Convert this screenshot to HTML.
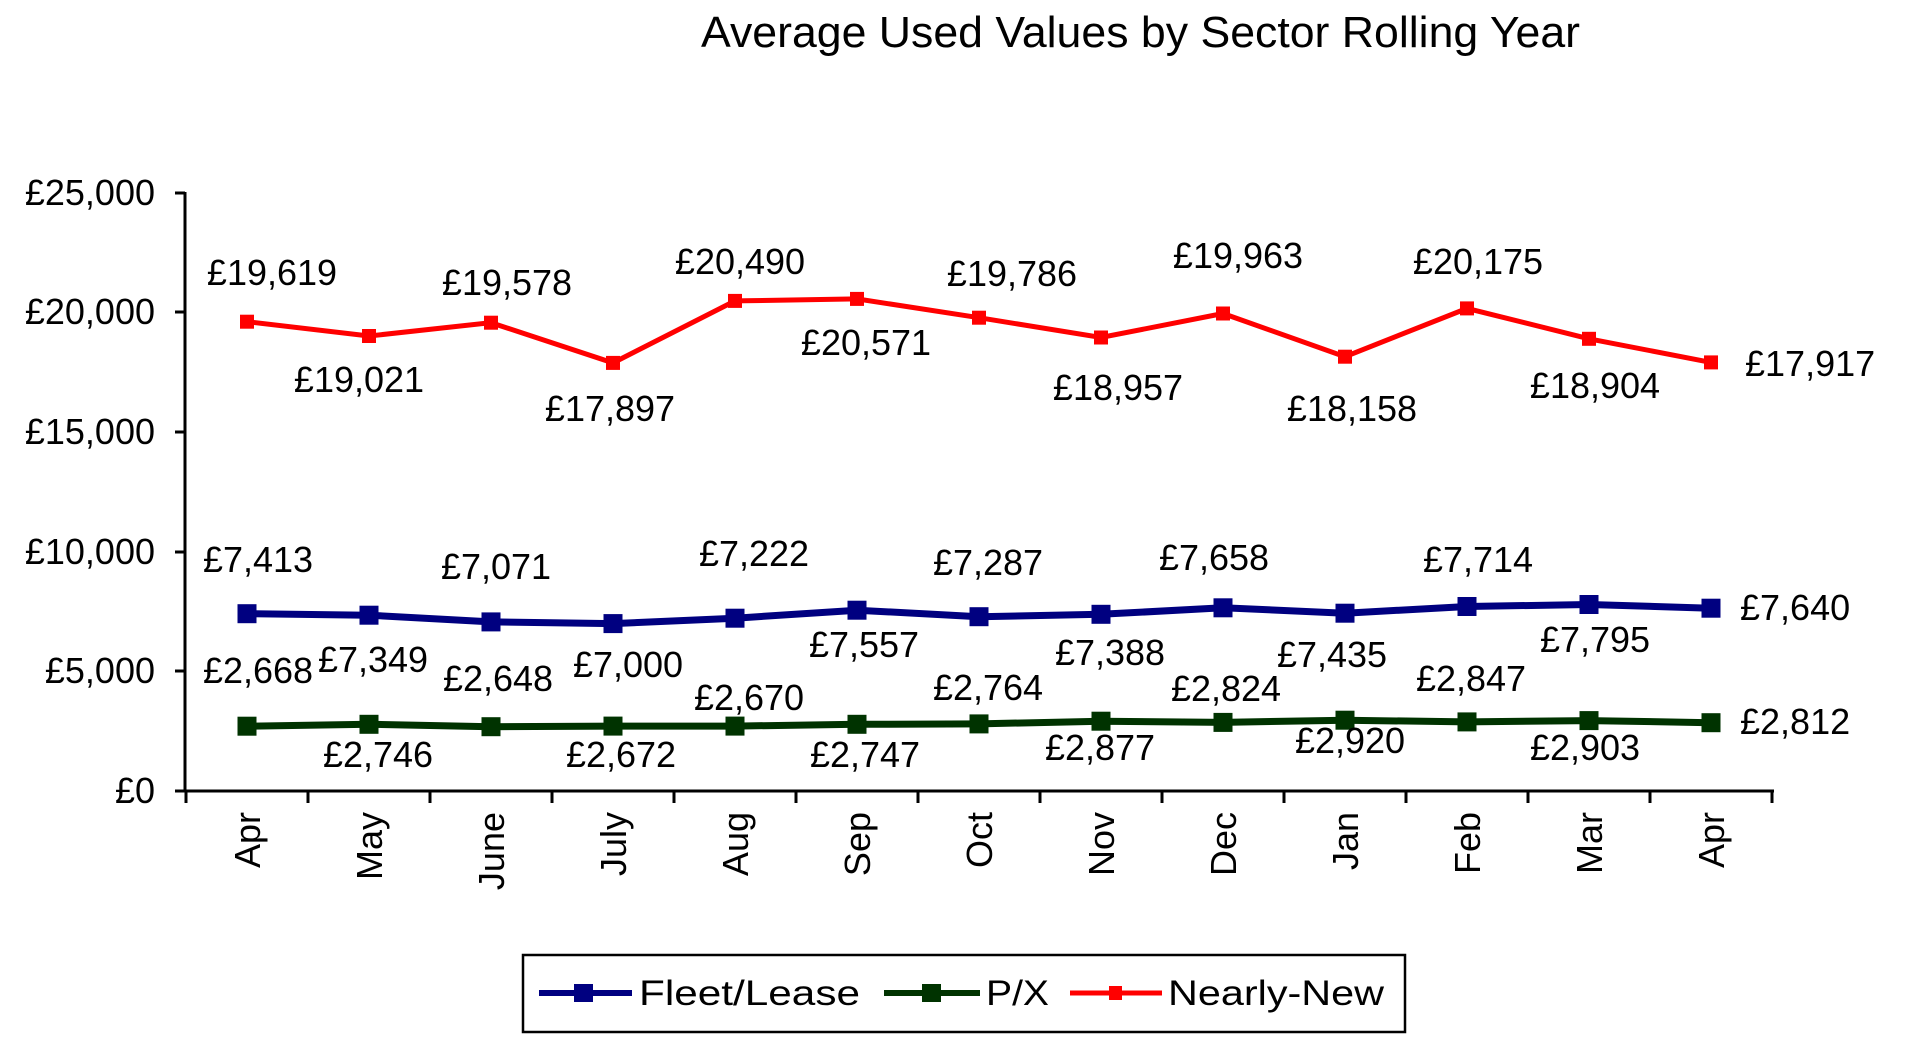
<!DOCTYPE html>
<html>
<head>
<meta charset="utf-8">
<style>
html,body{margin:0;padding:0;background:#fff;}
svg{display:block;}
text{font-family:"Liberation Sans",Arial,sans-serif;fill:#000;}
</style>
</head>
<body>
<svg width="1920" height="1046" viewBox="0 0 1920 1046" xmlns="http://www.w3.org/2000/svg">
<rect x="0" y="0" width="1920" height="1046" fill="#fff"/>

<!-- Title -->
<text x="701" y="47" font-size="44" textLength="879" lengthAdjust="spacingAndGlyphs" fill="#222">Average Used Values by Sector Rolling Year</text>

<!-- Y axis -->
<g stroke="#000" stroke-width="3" fill="none">
<line x1="185" y1="192" x2="185" y2="792"/>
<line x1="175" y1="193" x2="185" y2="193"/>
<line x1="175" y1="312" x2="185" y2="312"/>
<line x1="175" y1="432" x2="185" y2="432"/>
<line x1="175" y1="552" x2="185" y2="552"/>
<line x1="175" y1="671" x2="185" y2="671"/>
<line x1="175" y1="791" x2="185" y2="791"/>
<!-- X axis -->
<line x1="184" y1="791" x2="1774" y2="791"/>
<line x1="186" y1="791" x2="186" y2="803"/>
<line x1="308" y1="791" x2="308" y2="803"/>
<line x1="430" y1="791" x2="430" y2="803"/>
<line x1="552" y1="791" x2="552" y2="803"/>
<line x1="674" y1="791" x2="674" y2="803"/>
<line x1="796" y1="791" x2="796" y2="803"/>
<line x1="918" y1="791" x2="918" y2="803"/>
<line x1="1040" y1="791" x2="1040" y2="803"/>
<line x1="1162" y1="791" x2="1162" y2="803"/>
<line x1="1284" y1="791" x2="1284" y2="803"/>
<line x1="1406" y1="791" x2="1406" y2="803"/>
<line x1="1528" y1="791" x2="1528" y2="803"/>
<line x1="1650" y1="791" x2="1650" y2="803"/>
<line x1="1772" y1="791" x2="1772" y2="803"/>
</g>

<!-- Y labels -->
<g font-size="36" text-anchor="end">
<text x="155" y="205">£25,000</text>
<text x="155" y="324">£20,000</text>
<text x="155" y="444">£15,000</text>
<text x="155" y="564">£10,000</text>
<text x="155" y="683">£5,000</text>
<text x="155" y="803">£0</text>
</g>

<!-- X labels (rotated) -->
<g font-size="36" text-anchor="end">
<text transform="translate(260,812) rotate(-90)">Apr</text>
<text transform="translate(382,812) rotate(-90)">May</text>
<text transform="translate(504,812) rotate(-90)">June</text>
<text transform="translate(626,812) rotate(-90)">July</text>
<text transform="translate(748,812) rotate(-90)">Aug</text>
<text transform="translate(870,812) rotate(-90)">Sep</text>
<text transform="translate(992,812) rotate(-90)">Oct</text>
<text transform="translate(1114,812) rotate(-90)">Nov</text>
<text transform="translate(1236,812) rotate(-90)">Dec</text>
<text transform="translate(1358,812) rotate(-90)">Jan</text>
<text transform="translate(1480,812) rotate(-90)">Feb</text>
<text transform="translate(1602,812) rotate(-90)">Mar</text>
<text transform="translate(1724,812) rotate(-90)">Apr</text>
</g>

<!-- Nearly-New (red) -->
<polyline fill="none" stroke="#ff0000" stroke-width="5" points="247,321.7 369,336 491,322.7 613,362.9 735,300.9 857,298.9 979,317.7 1101,337.5 1223,313.5 1345,356.7 1467,308.4 1589,338.8 1711,362.4"/>
<g fill="#ff0000">
<rect x="240" y="314.7" width="14" height="14"/>
<rect x="362" y="329" width="14" height="14"/>
<rect x="484" y="315.7" width="14" height="14"/>
<rect x="606" y="355.9" width="14" height="14"/>
<rect x="728" y="293.9" width="14" height="14"/>
<rect x="850" y="291.9" width="14" height="14"/>
<rect x="972" y="310.7" width="14" height="14"/>
<rect x="1094" y="330.5" width="14" height="14"/>
<rect x="1216" y="306.5" width="14" height="14"/>
<rect x="1338" y="349.7" width="14" height="14"/>
<rect x="1460" y="301.4" width="14" height="14"/>
<rect x="1582" y="331.8" width="14" height="14"/>
<rect x="1704" y="355.4" width="14" height="14"/>
</g>

<!-- Fleet/Lease (blue) -->
<polyline fill="none" stroke="#000080" stroke-width="7" points="247,613.7 369,615.2 491,621.9 613,623.6 735,618.2 857,610.2 979,616.7 1101,614.3 1223,607.8 1345,613.2 1467,606.5 1589,604.5 1711,608.2"/>
<g fill="#000080">
<rect x="237.5" y="604.2" width="19" height="19"/>
<rect x="359.5" y="605.7" width="19" height="19"/>
<rect x="481.5" y="612.4" width="19" height="19"/>
<rect x="603.5" y="614.1" width="19" height="19"/>
<rect x="725.5" y="608.7" width="19" height="19"/>
<rect x="847.5" y="600.7" width="19" height="19"/>
<rect x="969.5" y="607.2" width="19" height="19"/>
<rect x="1091.5" y="604.8" width="19" height="19"/>
<rect x="1213.5" y="598.3" width="19" height="19"/>
<rect x="1335.5" y="603.7" width="19" height="19"/>
<rect x="1457.5" y="597" width="19" height="19"/>
<rect x="1579.5" y="595" width="19" height="19"/>
<rect x="1701.5" y="598.7" width="19" height="19"/>
</g>

<!-- P/X (green) -->
<polyline fill="none" stroke="#003300" stroke-width="7" points="247,726.2 369,724.3 491,726.7 613,726.1 735,726.1 857,724.3 979,723.9 1101,721.2 1223,722.4 1345,720.2 1467,721.9 1589,720.6 1711,722.7"/>
<g fill="#003300">
<rect x="237.5" y="716.7" width="19" height="19"/>
<rect x="359.5" y="714.8" width="19" height="19"/>
<rect x="481.5" y="717.2" width="19" height="19"/>
<rect x="603.5" y="716.6" width="19" height="19"/>
<rect x="725.5" y="716.6" width="19" height="19"/>
<rect x="847.5" y="714.8" width="19" height="19"/>
<rect x="969.5" y="714.4" width="19" height="19"/>
<rect x="1091.5" y="711.7" width="19" height="19"/>
<rect x="1213.5" y="712.9" width="19" height="19"/>
<rect x="1335.5" y="710.7" width="19" height="19"/>
<rect x="1457.5" y="712.4" width="19" height="19"/>
<rect x="1579.5" y="711.1" width="19" height="19"/>
<rect x="1701.5" y="713.2" width="19" height="19"/>
</g>

<!-- Data labels -->
<g font-size="36" text-anchor="middle">
<!-- red -->
<text x="272" y="285">£19,619</text>
<text x="359" y="392">£19,021</text>
<text x="507" y="295">£19,578</text>
<text x="610" y="421">£17,897</text>
<text x="740" y="274">£20,490</text>
<text x="866" y="355">£20,571</text>
<text x="1012" y="286">£19,786</text>
<text x="1118" y="400">£18,957</text>
<text x="1238" y="268">£19,963</text>
<text x="1352" y="421">£18,158</text>
<text x="1478" y="274">£20,175</text>
<text x="1595" y="398">£18,904</text>
<!-- blue -->
<text x="258" y="572">£7,413</text>
<text x="373" y="672">£7,349</text>
<text x="496" y="579">£7,071</text>
<text x="628" y="677">£7,000</text>
<text x="754" y="566">£7,222</text>
<text x="864" y="657">£7,557</text>
<text x="988" y="575">£7,287</text>
<text x="1110" y="665">£7,388</text>
<text x="1214" y="570">£7,658</text>
<text x="1332" y="667">£7,435</text>
<text x="1478" y="572">£7,714</text>
<text x="1595" y="652">£7,795</text>
<!-- green -->
<text x="258" y="683">£2,668</text>
<text x="378" y="767">£2,746</text>
<text x="498" y="691">£2,648</text>
<text x="621" y="767">£2,672</text>
<text x="749" y="710">£2,670</text>
<text x="865" y="767">£2,747</text>
<text x="988" y="700">£2,764</text>
<text x="1100" y="760">£2,877</text>
<text x="1226" y="701">£2,824</text>
<text x="1350" y="753">£2,920</text>
<text x="1471" y="691">£2,847</text>
<text x="1585" y="760">£2,903</text>
</g>
<g font-size="36">
<text x="1745" y="376">£17,917</text>
<text x="1740" y="620">£7,640</text>
<text x="1740" y="734">£2,812</text>
</g>

<!-- Legend -->
<rect x="523" y="955" width="882" height="77" fill="#fff" stroke="#000" stroke-width="2.5"/>
<line x1="539" y1="993" x2="632" y2="993" stroke="#000080" stroke-width="6"/>
<rect x="574" y="984" width="19" height="18" fill="#000080"/>
<text x="639" y="1005" font-size="35" textLength="221" lengthAdjust="spacingAndGlyphs">Fleet/Lease</text>
<line x1="884" y1="993" x2="980" y2="993" stroke="#003300" stroke-width="6"/>
<rect x="922" y="984" width="19" height="18" fill="#003300"/>
<text x="986" y="1005" font-size="35" textLength="63" lengthAdjust="spacingAndGlyphs">P/X</text>
<line x1="1070" y1="993" x2="1162" y2="993" stroke="#ff0000" stroke-width="5"/>
<rect x="1109" y="986" width="13" height="14" fill="#ff0000"/>
<text x="1168" y="1005" font-size="35" textLength="216" lengthAdjust="spacingAndGlyphs">Nearly-New</text>
</svg>
</body>
</html>
